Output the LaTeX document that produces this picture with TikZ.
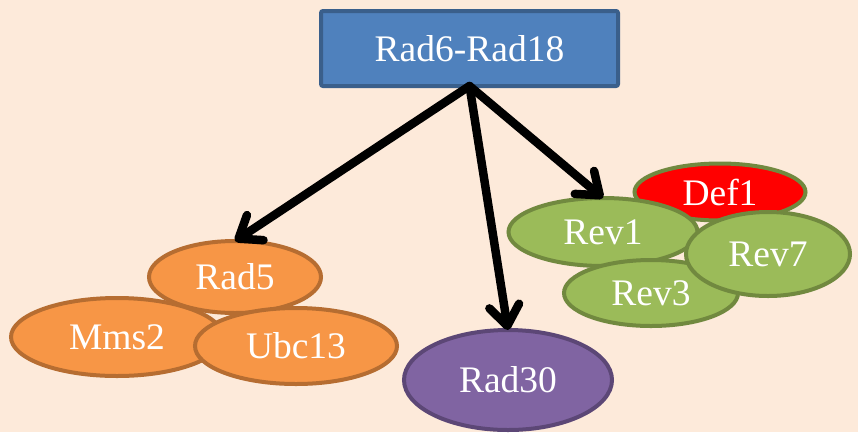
\documentclass[tikz,border=0pt]{standalone}
\usepackage{fontspec}
\setmainfont{Liberation Serif}
\usetikzlibrary{arrows.meta,shapes.geometric}
\definecolor{bg}{HTML}{FDEADA}
\definecolor{bluefill}{HTML}{4F81BD}
\definecolor{bluedraw}{HTML}{3A5F8B}
\definecolor{orfill}{HTML}{F79646}
\definecolor{ordraw}{HTML}{B66D31}
\definecolor{pufill}{HTML}{8064A2}
\definecolor{pudraw}{HTML}{5C4776}
\definecolor{grfill}{HTML}{9BBB59}
\definecolor{grdraw}{HTML}{71893F}
\definecolor{redfill}{HTML}{FF0000}
\begin{document}
\begin{tikzpicture}[x=1pt,y=-1pt,
  lbl/.style={text=white,font=\fontsize{37.5}{40}\selectfont},
  topbox/.style={rectangle,draw=bluedraw,fill=bluefill,line width=4pt,rounded corners=2pt,inner sep=0pt,outer sep=0pt,lbl},
  blob/.style={ellipse,line width=4pt,inner sep=0pt,outer sep=0pt,lbl},
  orblob/.style={blob,fill=orfill,draw=ordraw},
  publob/.style={blob,fill=pufill,draw=pudraw},
  grblob/.style={blob,fill=grfill,draw=grdraw},
  redblob/.style={blob,fill=redfill,draw=grdraw},
  arr/.style={line width=8.5pt,line cap=round,-{Straight Barb[length=20pt,width=30pt,line cap=round,line join=round]}}]
\fill[bg] (0,0) rectangle (858,432);
\node[topbox,minimum width=297pt,minimum height=75pt] (top) at (469.5,48.5) {Rad6-Rad18};
% orange group
\node[orblob,minimum width=172pt,minimum height=72pt] (rad5) at (235,277) {Rad5};
\node[orblob,minimum width=212pt,minimum height=78pt] (mms2) at (117,337) {Mms2};
\node[orblob,minimum width=202pt,minimum height=76pt] (ubc13) at (296,346) {Ubc13};
% purple
\node[publob,minimum width=208pt,minimum height=100pt] (rad30) at (508,380) {Rad30};
% green group
\node[redblob,minimum width=171pt,minimum height=57pt] (def1) at (720,192) {Def1};
\node[grblob,minimum width=189pt,minimum height=68pt] (rev1) at (603,232) {Rev1};
\node[grblob,minimum width=174pt,minimum height=66pt] (rev3) at (651,293) {Rev3};
\node[grblob,minimum width=164pt,minimum height=84pt] (rev7) at (768,254) {Rev7};
% arrows
\draw[arr] (top.south) -- (rad5.north);
\draw[arr] (top.south) -- (rad30.north);
\draw[arr] (top.south) -- (rev1.north);
\end{tikzpicture}
\end{document}
